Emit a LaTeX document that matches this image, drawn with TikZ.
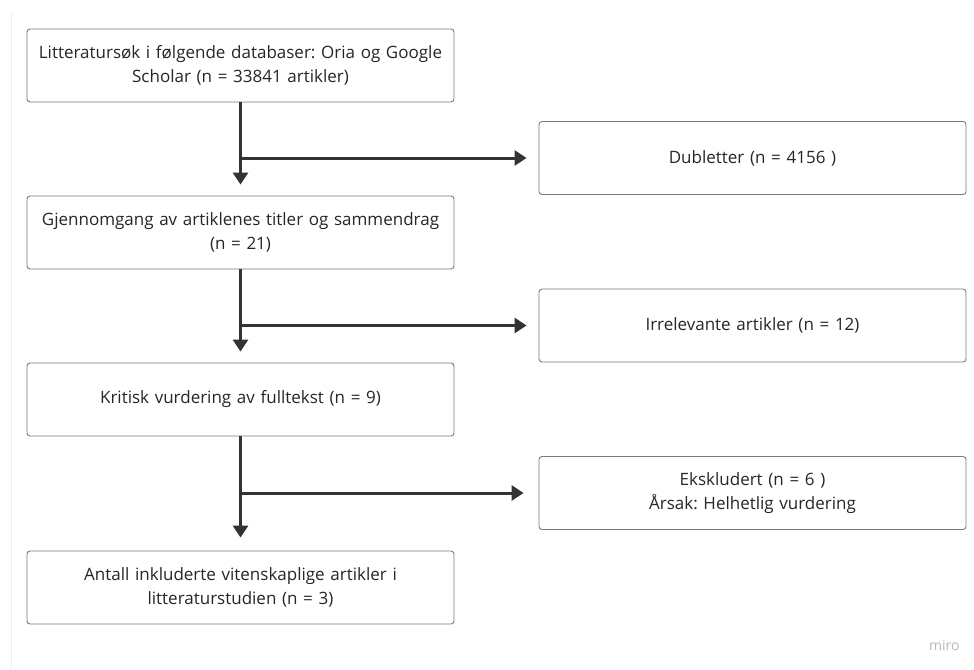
\documentclass[tikz,border=0pt]{standalone}
\usepackage{fontspec}
\setmainfont{Open Sans}
\usetikzlibrary{arrows.meta}
\definecolor{boxline}{HTML}{7A7A7A}
\definecolor{txt}{HTML}{262626}
\definecolor{arr}{HTML}{333333}
\definecolor{edge}{HTML}{EEEEEE}
\definecolor{wm}{HTML}{B8B8B8}
\tikzset{
  flowbox/.style={draw=boxline, line width=0.9pt, rounded corners=3pt, fill=white,
    minimum width=427pt, minimum height=73pt, inner sep=0pt, text width=422pt,
    align=center, text=txt, font=\frenchspacing\fontsize{17}{24}\selectfont},
  flowarrow/.style={draw=arr, line width=3pt, -{Triangle[width=15pt,length=12pt]}},
}
\begin{document}
\begin{tikzpicture}[x=1pt,y=-1pt]
\useasboundingbox (0,0) rectangle (974,669);
\fill[white] (0,0) rectangle (974,669);
\draw[edge, line width=1pt] (11.5,12) -- (11.5,669);

\node[flowbox] (b1) at (240.5,65.5) {Litteratursøk i følgende databaser: Oria og Google\\Scholar (n = 33841 artikler)};
\node[flowbox] (b2) at (240.5,232.5) {Gjennomgang av artiklenes titler og sammendrag\\(n = 21)};
\node[flowbox] (b3) at (240.5,399.5) {Kritisk vurdering av fulltekst (n = 9)};
\node[flowbox] (b4) at (240.5,587.5) {Antall inkluderte vitenskaplige artikler i\\litteraturstudien (n = 3)};

\node[flowbox] (d1) at (752.5,158) {Dubletter (n = 4156 )};
\node[flowbox] (d2) at (752.5,325.5) {Irrelevante artikler (n = 12)};
\node[flowbox] (d3) at (752.5,493) {Ekskludert (n = 6 )\\Årsak: Helhetlig vurdering};

\coordinate (j1) at (240.5,158);
\coordinate (j2) at (240.5,325.5);
\coordinate (j3) at (240.5,493);

\draw[flowarrow, shorten >=11pt] (b1.south) -- (b2.north);
\draw[flowarrow, shorten >=11pt] (b2.south) -- (b3.north);
\draw[flowarrow, shorten >=13pt] (b3.south) -- (b4.north);
\draw[flowarrow, shorten >=12pt] ([xshift=-1.5pt]j1) -- (d1.west);
\draw[flowarrow, shorten >=12pt] ([xshift=-1.5pt]j2) -- (d2.west);
\draw[flowarrow, shorten >=15pt] ([xshift=-1.5pt]j3) -- (d3.west);

\node[text=wm, font=\fontsize{14}{16}\selectfont, anchor=east] (wmark) at (963,645) {miro};
\end{tikzpicture}
\end{document}
